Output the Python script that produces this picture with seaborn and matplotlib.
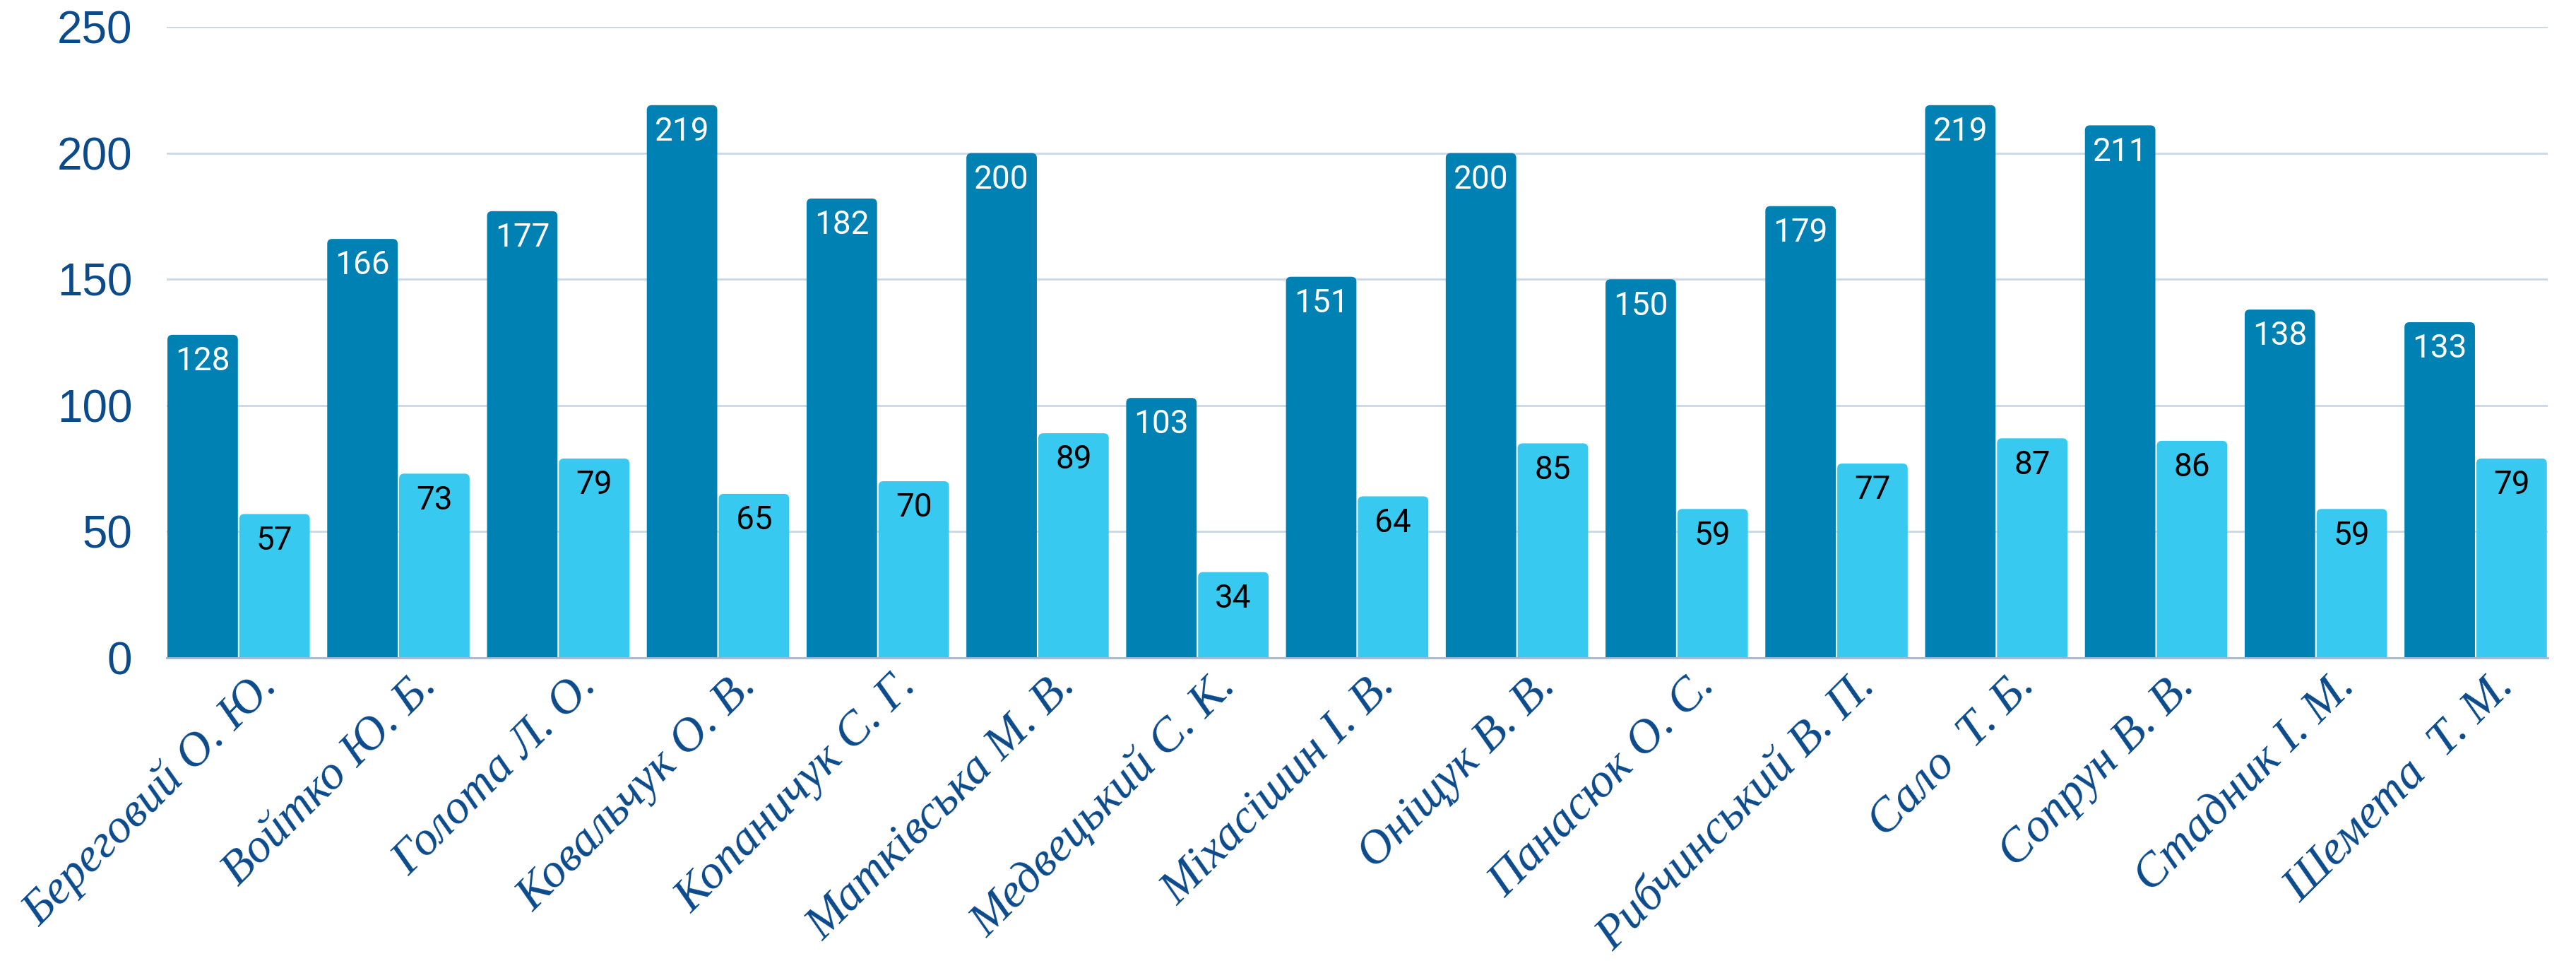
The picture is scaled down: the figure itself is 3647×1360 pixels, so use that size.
import pandas as pd
import seaborn as sns
import matplotlib.pyplot as plt
import matplotlib.transforms as mtransforms
from matplotlib.patches import FancyBboxPatch

# Data
names = ['Береговий О. Ю.', 'Войтко Ю. Б.', 'Голота Л. О.', 'Ковальчук О. В.',
         'Копаничук С. Г.', 'Матківська М. В.', 'Медвецький С. К.', 'Міхасішин І. В.',
         'Оніщук В. В.', 'Панасюк О. С.', 'Рибчинський В. П.', 'Сало  Т. Б.',
         'Сопрун В. В.', 'Стадник І. М.', 'Шемета  Т. М.']
series_a = [128, 166, 177, 219, 182, 200, 103, 151, 200, 150, 179, 219, 211, 138, 133]
series_b = [57, 73, 79, 65, 70, 89, 34, 64, 85, 59, 77, 87, 86, 59, 79]
yticks = [0, 50, 100, 150, 200, 250]

dark = '#0081B4'
light = '#38C9F0'
text_blue = '#0B4A8B'

df = pd.DataFrame({
    'name': names * 2,
    'value': series_a + series_b,
    'group': ['a'] * len(names) + ['b'] * len(names),
})

sns.set_style('white')
plt.rcParams['font.family'] = ['Liberation Sans', 'DejaVu Sans']

fig = plt.figure(figsize=(36.48, 13.6), dpi=100)
ax = fig.add_axes([0.0647, 0.3154, 0.924, 0.6566])

sns.barplot(data=df, x='name', y='value', hue='group', palette=[dark, light],
            width=0.9, gap=0.02, saturation=1, legend=False, ax=ax)

ax.set_ylim(0, 250)
ax.set_xlim(-0.45, len(names) - 0.55)

# swap plain bars for ones with slightly rounded tops
fig.canvas.draw()
bb = ax.get_window_extent()
px_x = bb.width / (len(names) - 0.1)
px_y = bb.height / 250
radius = 7 / px_x
for container in ax.containers:
    for bar in container:
        x, w, h = bar.get_x(), bar.get_width(), bar.get_height()
        bar.set_visible(False)
        ax.add_patch(FancyBboxPatch((x, -10), w, h + 10,
                                    boxstyle=f'round,pad=0,rounding_size={radius}',
                                    mutation_aspect=px_x / px_y,
                                    facecolor=bar.get_facecolor(), edgecolor='none',
                                    zorder=2))

# value labels inside the top of each bar
for container, col in zip(ax.containers, ['white', 'black']):
    for bar in container:
        h = bar.get_height()
        ax.annotate(f'{int(h)}', (bar.get_x() + bar.get_width() / 2, h),
                    xytext=(0, -11), textcoords='offset points',
                    ha='center', va='top', fontsize=33, color=col,
                    family='Roboto', zorder=3)

ax.set_yticks(yticks)
ax.set_yticklabels([str(t) for t in yticks], fontsize=46, color=text_blue)
ax.tick_params(axis='y', length=0, pad=35)
ax.tick_params(axis='x', length=0, pad=0)
ax.yaxis.grid(True, color='#C9D7E6', linewidth=2)
ax.set_axisbelow(True)
for s in ['top', 'right', 'left']:
    ax.spines[s].set_visible(False)
ax.spines['bottom'].set_color('#A9B7CC')
ax.spines['bottom'].set_linewidth(2)
ax.spines['bottom'].set_zorder(4)
ax.set_xlabel('')
ax.set_ylabel('')

ax.set_xticks(range(len(names)))
ax.set_xticklabels(names, rotation=45, ha='right', va='center', rotation_mode='anchor',
                   fontsize=49, color=text_blue, family='Liberation Serif', style='italic')
offset = mtransforms.ScaledTranslation(0.45, -0.3, fig.dpi_scale_trans)
for lbl in ax.get_xticklabels():
    lbl.set_transform(lbl.get_transform() + offset)

fig.savefig('out.png', dpi=100, facecolor='white')
